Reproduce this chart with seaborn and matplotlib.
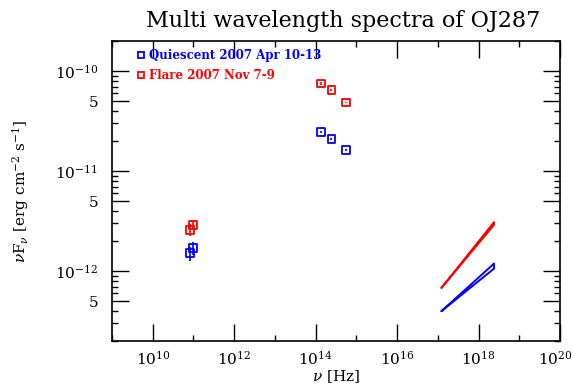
import numpy as np
import pandas as pd
import matplotlib
matplotlib.use("Agg")
import matplotlib.pyplot as plt
import matplotlib.ticker as mticker
import matplotlib.transforms as mtransforms
from matplotlib.lines import Line2D
import seaborn as sns

# ---- data ----
quiescent_nu = [8.3e10, 9.8e10, 1.34e14, 2.45e14, 5.5e14]
quiescent_flux = [1.51e-12, 1.69e-12, 2.44e-11, 2.09e-11, 1.64e-11]
quiescent_err = [0.25e-12, 0.25e-12, 0.6e-12, 0.5e-12, 0.4e-12]

flare_nu = [8.3e10, 9.8e10, 1.34e14, 2.45e14, 5.5e14]
flare_flux = [2.58e-12, 2.90e-12, 7.52e-11, 6.44e-11, 4.85e-11]
flare_err = [0.35e-12, 0.35e-12, 2.0e-12, 1.5e-12, 1.0e-12]

# X-ray bowties: start point, then upper and lower end
xray_nu = [1.23e17, 2.4e18, 2.4e18, 1.23e17]
quiescent_xray = [3.98e-13, 1.19e-12, 1.06e-12, 3.98e-13]
flare_xray = [6.8e-13, 3.09e-12, 2.90e-12, 6.8e-13]

labels = ["Quiescent 2007 Apr 10-13", "Flare 2007 Nov 7-9"]
colors = ["#0000ff", "#ff0000"]

x_ticks = [1e10, 1e12, 1e14, 1e16, 1e18, 1e20]
x_ticklabels = [r"$10^{10}$", r"$10^{12}$", r"$10^{14}$", r"$10^{16}$", r"$10^{18}$", r"$10^{20}$"]
y_ticks = [5e-13, 1e-12, 5e-12, 1e-11, 5e-11, 1e-10]
y_ticklabels = ["5", r"$10^{-12}$", "5", r"$10^{-11}$", "5", r"$10^{-10}$"]

# ---- plotting ----
sns.set_theme(style="ticks")
plt.rcParams["font.family"] = ["DejaVu Serif"]
plt.rcParams["mathtext.fontset"] = "dejavuserif"
plt.rcParams["text.color"] = "black"
plt.rcParams["axes.labelcolor"] = "black"

fig = plt.figure(figsize=(5.74, 3.86), dpi=100)
ax = fig.add_axes([112 / 574, 45 / 386, 448 / 574, 300 / 386])

pts = pd.DataFrame({
    "nu": quiescent_nu + flare_nu,
    "flux": quiescent_flux + flare_flux,
    "state": [labels[0]] * len(quiescent_nu) + [labels[1]] * len(flare_nu),
})
for nu, fl, er, c in [(quiescent_nu, quiescent_flux, quiescent_err, colors[0]),
                      (flare_nu, flare_flux, flare_err, colors[1])]:
    ax.errorbar(nu, fl, yerr=er, fmt="none", ecolor=c, elinewidth=1.2, capsize=0)
sns.scatterplot(data=pts, x="nu", y="flux", hue="state", palette=colors,
                marker="s", s=32, facecolor="none", linewidth=1.3,
                legend=False, ax=ax)
coll = ax.collections[-1]
ec = [colors[0]] * len(quiescent_nu) + [colors[1]] * len(flare_nu)
coll.set_edgecolors(ec)
coll.set_facecolors("none")

bow = pd.DataFrame({
    "nu": xray_nu + xray_nu,
    "flux": quiescent_xray + flare_xray,
    "state": [labels[0]] * 4 + [labels[1]] * 4,
})
for lab, c in zip(labels, colors):
    sub = bow[bow.state == lab]
    sns.lineplot(data=sub, x="nu", y="flux", sort=False, color=c,
                 linewidth=1.4, estimator=None, ax=ax)

ax.set_xscale("log")
ax.set_yscale("log")
ax.set_xlim(1e9, 1e20)
ax.set_ylim(2e-13, 2e-10)

ax.xaxis.set_major_locator(mticker.FixedLocator(x_ticks))
ax.xaxis.set_major_formatter(mticker.FixedFormatter(x_ticklabels))
ax.xaxis.set_minor_locator(mticker.FixedLocator([1e9, 1e11, 1e13, 1e15, 1e17, 1e19]))
ax.xaxis.set_minor_formatter(mticker.NullFormatter())

ax.yaxis.set_major_locator(mticker.FixedLocator(y_ticks))
ax.yaxis.set_major_formatter(mticker.FixedFormatter(y_ticklabels))
ax.yaxis.set_minor_locator(mticker.LogLocator(base=10, subs=(2, 3, 4, 6, 7, 8, 9), numticks=20))
ax.yaxis.set_minor_formatter(mticker.NullFormatter())

ax.tick_params(which="both", direction="in", top=True, right=True, colors="black",
               labelsize=11, width=1.0)
ax.tick_params(which="major", length=12)
ax.tick_params(which="minor", length=4.3)
ax.tick_params(axis="x", which="major", pad=6)
ax.tick_params(axis="y", which="major", pad=10)
for s in ax.spines.values():
    s.set_linewidth(1.2)
    s.set_color("black")

# nudge last x tick label left so it stays inside the figure
fig.canvas.draw()
last = ax.get_xticklabels()[-1]
last.set_transform(last.get_transform() + mtransforms.ScaledTranslation(-5 / 100, 0, fig.dpi_scale_trans))

ax.set_xlabel(r"$\nu$ [Hz]", fontsize=11, labelpad=1, color="black")
ax.set_ylabel(r"$\nu$F$_\nu$ [erg cm$^{-2}$ s$^{-1}$]", fontsize=11, labelpad=17,
              color="black")
ax.set_title("Multi wavelength spectra of OJ287", fontsize=16, pad=10,
             color="black", x=0.515)

handles = [Line2D([], [], linestyle="none", marker="s", markersize=5,
                  markerfacecolor="none", markeredgecolor=c, markeredgewidth=1.3)
           for c in colors]
leg = ax.legend(handles, labels, loc="upper left", frameon=False,
                bbox_to_anchor=(0.054, 0.972), borderaxespad=0, borderpad=0,
                prop={"weight": "bold", "size": 8.5}, handletextpad=0.28,
                handlelength=0.8, labelspacing=0.55)
for t, c in zip(leg.get_texts(), colors):
    t.set_color(c)

fig.savefig("out.png", dpi=100)
